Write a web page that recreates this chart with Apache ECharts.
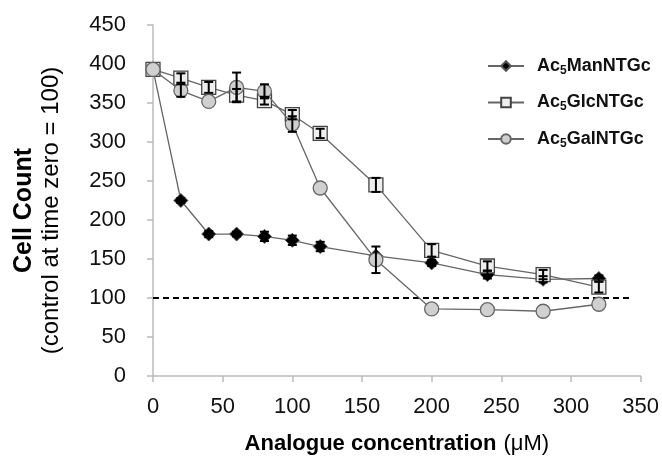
<!DOCTYPE html>
<html>
<head>
<meta charset="utf-8">
<script src="https://cdn.jsdelivr.net/npm/echarts@6/dist/echarts.min.js"></script>
<style>
  html, body { margin: 0; padding: 0; background: #fff; }
  #main { width: 662px; height: 461px; }
</style>
</head>
<body>
<div id="main"></div>
<script>
// 数据
var conc = [0, 20, 40, 60, 80, 100, 120, 160, 200, 240, 280, 320];
var manVals = [393, 225, 182, 182, 179, 174, 166, 154, 145, 130, 124, 125];
var manErr = [0, 3, 4, 3, 6, 6, 6, 0, 4, 5, 4, 4];
var glcVals = [393, 382, 370, 360, 353, 335, 311, 245, 161, 141, 130, 114];
var glcErr = [0, 6, 7, 8, 5, 6, 6, 9, 8, 6, 6, 7];
var galVals = [393, 366, 352, 370, 365, 323, 241, 149, 86, 85, 83, 92];
var galErr = [0, 8, 0, 19, 9, 10, 0, 17, 0, 0, 0, 0];
var refLine = [[0, 100], [343, 100]];
var names = ["Ac5ManNTGc", "Ac5GlcNTGc", "Ac5GalNTGc"];

function pairs(vals) {
  return conc.map(function (c, i) { return [c, vals[i]]; });
}
function errData(vals, errs) {
  var out = [];
  conc.forEach(function (c, i) {
    if (errs[i] > 0) out.push([c, vals[i] - errs[i], vals[i] + errs[i]]);
  });
  return out;
}
function errSeries(vals, errs) {
  return {
    type: "custom",
    z: 5,
    silent: true,
    data: errData(vals, errs),
    renderItem: function (params, api) {
      var lo = api.coord([api.value(0), api.value(1)]);
      var hi = api.coord([api.value(0), api.value(2)]);
      var w = 4.5;
      var st = { stroke: "#000", lineWidth: 2 };
      return {
        type: "group",
        children: [
          { type: "line", shape: { x1: lo[0], y1: lo[1], x2: hi[0], y2: hi[1] }, style: st },
          { type: "line", shape: { x1: lo[0] - w, y1: lo[1], x2: lo[0] + w, y2: lo[1] }, style: st },
          { type: "line", shape: { x1: hi[0] - w, y1: hi[1], x2: hi[0] + w, y2: hi[1] }, style: st },
        ],
      };
    },
  };
}

var chart = echarts.init(document.getElementById("main"));
var font = "Liberation Sans, Arial, sans-serif";

var option = {
  animation: false,
  textStyle: { fontFamily: font },
  grid: { left: 153, top: 25, right: 19, bottom: 85 },
  legend: {
    data: names,
    orient: "vertical",
    left: 482,
    top: 52,
    itemGap: 17,
    itemWidth: 36,
    itemHeight: 12,
    formatter: function (name) {
      return "{a|Ac}{s|5}{a|" + name.slice(3) + "}";
    },
    textStyle: {
      rich: {
        a: { fontSize: 18, fontWeight: "bold", color: "#111", fontFamily: font },
        s: { fontSize: 12, fontWeight: "bold", color: "#111", fontFamily: font, padding: [9, 0, 0, 0] },
      },
      padding: [0, 0, 0, 8],
    },
  },
  xAxis: {
    type: "value",
    min: 0,
    max: 350,
    interval: 50,
    name: "{b|Analogue concentration}{n|(μM)}",
    nameLocation: "middle",
    nameGap: 57,
    nameTextStyle: {
      rich: {
        b: { fontSize: 22, fontWeight: "bold", color: "#000", fontFamily: font },
        n: { fontSize: 22, color: "#000", fontFamily: font, padding: [0, 0, 0, 7] },
      },
    },
    splitLine: { show: false },
    axisLine: { lineStyle: { color: "#bbb", width: 1.5 } },
    axisTick: { show: true, length: 6, lineStyle: { color: "#bbb", width: 1.5 } },
    axisLabel: { fontSize: 22, color: "#111", margin: 20 },
  },
  yAxis: {
    type: "value",
    min: 0,
    max: 450,
    interval: 50,
    name: "{b|Cell Count}\n{n|(control at time zero = 100)}",
    nameLocation: "middle",
    nameRotate: 90,
    nameGap: 88,
    nameTextStyle: {
      padding: [0, 20, 0, 0],
      rich: {
        b: { fontSize: 25, fontWeight: "bold", color: "#000", fontFamily: font, lineHeight: 28 },
        n: { fontSize: 24, color: "#000", fontFamily: font, lineHeight: 27 },
      },
    },
    splitLine: { show: false },
    axisLine: { show: true, lineStyle: { color: "#bbb", width: 1.5 } },
    axisTick: { show: true, length: 6, lineStyle: { color: "#bbb", width: 1.5 } },
    axisLabel: { fontSize: 22, color: "#111", margin: 27 },
  },
  series: [
    {
      name: "ref",
      type: "line",
      data: refLine,
      symbol: "none",
      silent: true,
      lineStyle: { color: "#000", width: 2, type: [6, 4] },
      z: 1,
    },
    {
      name: names[0],
      type: "line",
      data: pairs(manVals),
      symbol: "diamond",
      symbolSize: 14,
      lineStyle: { color: "#666", width: 1.3 },
      itemStyle: { color: "#000", borderColor: "#555", borderWidth: 1 },
      z: 2,
    },
    {
      name: names[1],
      type: "line",
      data: pairs(glcVals),
      symbol: "rect",
      symbolSize: 14,
      lineStyle: { color: "#666", width: 1.3 },
      itemStyle: { color: "#eee", borderColor: "#444", borderWidth: 1.3 },
      z: 3,
    },
    {
      name: names[2],
      type: "line",
      data: pairs(galVals),
      symbol: "circle",
      symbolSize: 14,
      lineStyle: { color: "#666", width: 1.3 },
      itemStyle: { color: "#d0d0d0", borderColor: "#666", borderWidth: 1.3 },
      z: 4,
    },
    errSeries(manVals, manErr),
    errSeries(glcVals, glcErr),
    errSeries(galVals, galErr),
  ],
};
option && chart.setOption(option);
</script>
</body>
</html>
